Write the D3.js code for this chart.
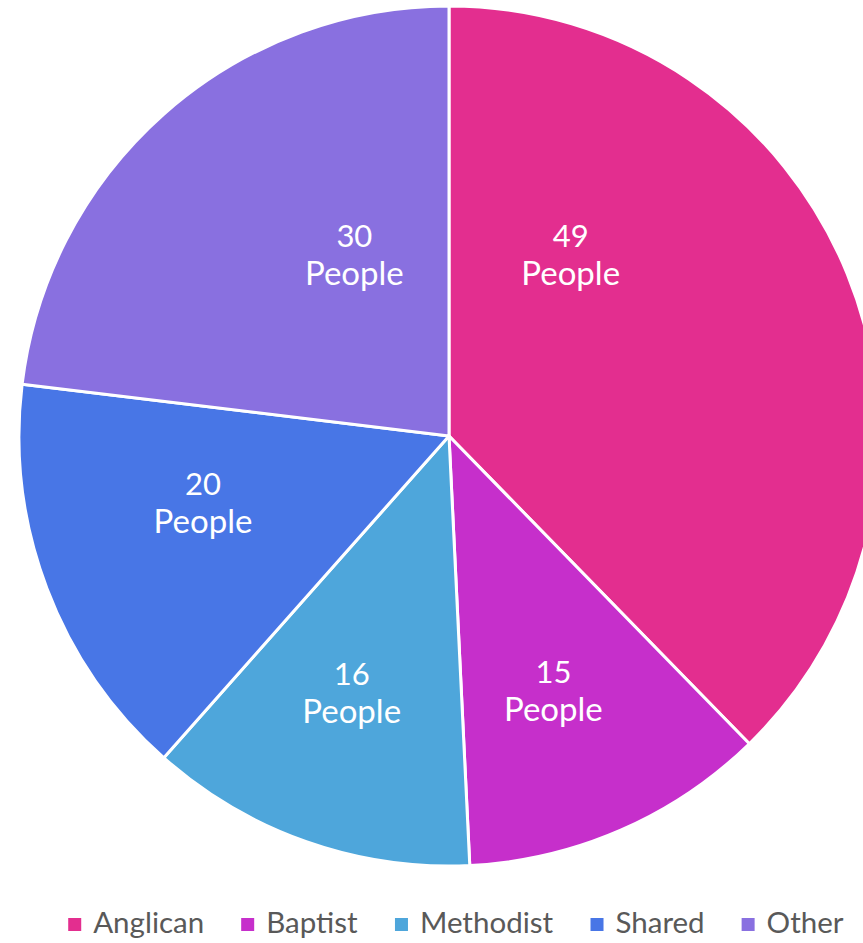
<!DOCTYPE html>
<html><head><meta charset="utf-8">
<script src="https://cdn.jsdelivr.net/npm/d3@7/dist/d3.min.js"></script>
<style>body{margin:0;background:#fff;} svg{display:block;}</style>
</head><body>
<svg id="c" width="863" height="943"></svg>
<script>
const categories = ["Anglican", "Baptist", "Methodist", "Shared", "Other"];
const values = [49, 15, 16, 20, 30];
const unit = "People";
const colors = ["#E32E8F", "#C62FCB", "#4EA6DB", "#4876E6", "#8970E0"];

// label placement inside each slice (fraction along the slice angle, fraction of radius)
const labelAngleFrac = [0.25, 0.53, 0.53, 0.60, 0.667];
const labelRadiusFrac = [0.507, 0.64, 0.64, 0.593, 0.474];

const svg = d3.select("#c");
const cx = 449, cy = 436, R = 430;
const font = "Lato, 'Open Sans', sans-serif";

const data = categories.map((c, i) => ({cat: c, value: values[i], color: colors[i], i}));
const pie = d3.pie().value(d => d.value).sort(null).startAngle(0).endAngle(2 * Math.PI);
const arc = d3.arc().innerRadius(0).outerRadius(R);
const arcs = pie(data);

const g = svg.append("g").attr("transform", `translate(${cx},${cy})`);
g.selectAll("path").data(arcs).join("path")
  .attr("d", arc)
  .attr("fill", d => d.data.color)
  .attr("stroke", "#fff")
  .attr("stroke-width", 3)
  .attr("stroke-linejoin", "round");

const lab = g.selectAll("g.lab").data(arcs).join("g").attr("class", "lab")
  .attr("transform", d => {
    const i = d.data.i;
    const a = d.startAngle + labelAngleFrac[i] * (d.endAngle - d.startAngle);
    const r = labelRadiusFrac[i] * R;
    return `translate(${r * Math.sin(a)},${-r * Math.cos(a)})`;
  });
lab.append("text").attr("text-anchor", "middle").attr("y", -8)
  .attr("fill", "#fff").attr("font-family", font).attr("font-size", 31)
  .text(d => d.data.value);
lab.append("text").attr("text-anchor", "middle").attr("y", 30)
  .attr("fill", "#fff").attr("font-family", font).attr("font-size", 33)
  .text(unit);

// legend
const leg = svg.append("g");
const items = leg.selectAll("g").data(data).join("g");
items.append("rect").attr("width", 13).attr("height", 13).attr("y", -15).attr("fill", d => d.color);
items.append("text").attr("x", 25).attr("fill", "#595959")
  .attr("font-family", font).attr("font-size", 29.5).text(d => d.cat);
let x = 0; const gap = 37;
items.each(function () {
  const w = this.getBBox().width;
  d3.select(this).attr("transform", `translate(${x},0)`);
  x += w + gap;
});
const total = x - gap;
leg.attr("transform", `translate(${456 - total / 2},933)`);
</script>
</body></html>
